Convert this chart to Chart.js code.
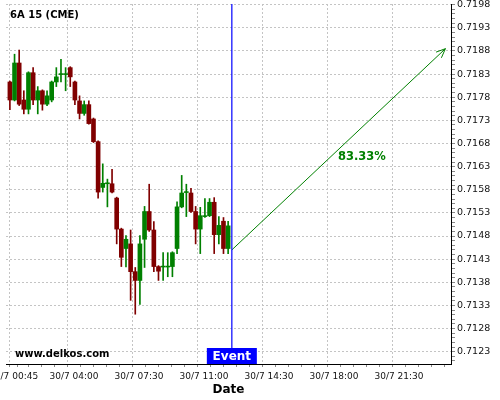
<!DOCTYPE html>
<html>
<head>
<meta charset="utf-8">
<script src="https://cdn.jsdelivr.net/npm/chart.js@4.4.1/dist/chart.umd.min.js"></script>
<style>
  html, body { margin: 0; padding: 0; background: #fff; }
  #wrap { width: 500px; height: 400px; }
</style>
</head>
<body>
<div id="wrap"><canvas id="myChart" width="500" height="400"></canvas></div>
<script>
// 15 minute candles, time in hours of 30/7
let startHour = 0.55;
let stepHour = 0.25;
let open  = [0.71813, 0.71774, 0.71854, 0.71774, 0.71754, 0.71833, 0.71774, 0.71794, 0.71765, 0.71774, 0.71813, 0.71829,
             0.71829, 0.71844, 0.71813, 0.71772, 0.71745, 0.71764, 0.71733, 0.71684, 0.71585, 0.71593, 0.71593, 0.71562,
             0.71495, 0.71453, 0.71463, 0.71403, 0.71384, 0.71473, 0.71533, 0.71493, 0.71414, 0.71413, 0.71413, 0.71414,
             0.71453, 0.71543, 0.71574, 0.71573, 0.71533, 0.71495, 0.71522, 0.71524, 0.71553, 0.71483, 0.71512, 0.71453];
let high  = [0.71815, 0.71873, 0.71882, 0.71794, 0.71835, 0.71844, 0.71803, 0.71796, 0.71794, 0.71815, 0.71844, 0.71862,
             0.71844, 0.71846, 0.71815, 0.71783, 0.71772, 0.71772, 0.71735, 0.71686, 0.71636, 0.71603, 0.71624, 0.71564,
             0.71497, 0.71481, 0.71493, 0.71412, 0.71481, 0.71544, 0.71592, 0.71511, 0.71416, 0.71444, 0.71444, 0.71446,
             0.71554, 0.71611, 0.71592, 0.71583, 0.71544, 0.71542, 0.71561, 0.71561, 0.71563, 0.71522, 0.71520, 0.71512];
let low   = [0.71753, 0.71772, 0.71762, 0.71744, 0.71744, 0.71764, 0.71744, 0.71752, 0.71762, 0.71770, 0.71803, 0.71813,
             0.71794, 0.71803, 0.71764, 0.71733, 0.71741, 0.71722, 0.71682, 0.71562, 0.71575, 0.71543, 0.71573, 0.71463,
             0.71414, 0.71413, 0.71341, 0.71311, 0.71332, 0.71412, 0.71490, 0.71403, 0.71384, 0.71384, 0.71392, 0.71392,
             0.71442, 0.71541, 0.71522, 0.71531, 0.71463, 0.71442, 0.71520, 0.71522, 0.71442, 0.71463, 0.71442, 0.71442];
let close = [0.71774, 0.71854, 0.71765, 0.71754, 0.71833, 0.71774, 0.71794, 0.71765, 0.71783, 0.71813, 0.71824, 0.71831,
             0.71831, 0.71824, 0.71774, 0.71745, 0.71764, 0.71723, 0.71684, 0.71575, 0.71594, 0.71595, 0.71575, 0.71495,
             0.71434, 0.71473, 0.71403, 0.71384, 0.71463, 0.71533, 0.71493, 0.71414, 0.71404, 0.71415, 0.71415, 0.71444,
             0.71543, 0.71573, 0.71576, 0.71533, 0.71495, 0.71524, 0.71524, 0.71553, 0.71483, 0.71503, 0.71453, 0.71502];

let xTickHours = [0.75, 4, 7.5, 11, 14.5, 18, 21.5];
let xTickLabels = ['30/7 00:45', '30/7 04:00', '30/7 07:30', '30/7 11:00', '30/7 14:30', '30/7 18:00', '30/7 21:30'];
let yTicks = [0.7123, 0.7128, 0.7133, 0.7138, 0.7143, 0.7148, 0.7153, 0.7158, 0.7163, 0.7168, 0.7173, 0.7178, 0.7183, 0.7188, 0.7193, 0.7198];

let eventHour = 12.5;
let arrowHours = [12.5, 24.0];
let arrowPrices = [0.71450, 0.71885];
let percentLabel = '83.33%';
let percentPos = [19.5, 0.71651];

let green = '#008000';
let red = '#800000';
let font = "'DejaVu Sans', sans-serif";

let times = open.map((v, i) => startHour + i * stepHour);
let candleColors = open.map((o, i) => close[i] >= o ? green : red);

// x ticks: majors at the label hours, minor ticks every 0.7h between
function buildXTicks(scale) {
    let ticks = [];
    for (let t = xTickHours[1] - 0.7 * 5; t <= scale.max; t += 0.7) {
        if (t < scale.min) continue;
        if (xTickHours.some(h => Math.abs(h - t) < 0.3)) continue;
        ticks.push({ value: t, major: false });
    }
    xTickHours.forEach(h => ticks.push({ value: h, major: true }));
    ticks.sort((a, b) => a.value - b.value);
    scale.ticks = ticks;
}

function buildYTicks(scale) {
    let ticks = [];
    for (let k = 0; k <= 80; k++) {
        let v = Math.round((0.7120 + k * 0.0001) * 10000) / 10000;
        if (v < scale.min || v > scale.max) continue;
        let major = yTicks.some(t => Math.abs(t - v) < 0.00001);
        ticks.push({ value: v, major: major });
    }
    scale.ticks = ticks;
}

function noPad(s) {
    s.paddingLeft = 0;
    s.paddingRight = 0;
    s.paddingTop = 0;
    s.paddingBottom = 0;
}

const overlay = {
    id: 'overlay',
    afterDatasetsDraw(chart) {
        const ctx = chart.ctx;
        const area = chart.chartArea;
        const x = chart.scales.x;
        const y = chart.scales.y;
        ctx.save();

        // arrow head
        const pts = chart.getDatasetMeta(3).data;
        const p0 = pts[0], p1 = pts[1];
        const ang = Math.atan2(p1.y - p0.y, p1.x - p0.x);
        ctx.strokeStyle = green;
        ctx.lineWidth = 1;
        ctx.beginPath();
        ctx.moveTo(p1.x - 10 * Math.cos(ang - 0.4), p1.y - 10 * Math.sin(ang - 0.4));
        ctx.lineTo(p1.x, p1.y);
        ctx.lineTo(p1.x - 10 * Math.cos(ang + 0.4), p1.y - 10 * Math.sin(ang + 0.4));
        ctx.stroke();

        // percent label
        ctx.fillStyle = green;
        ctx.font = 'bold 11.5px ' + font;
        ctx.textAlign = 'center';
        ctx.textBaseline = 'middle';
        ctx.fillText(percentLabel, x.getPixelForValue(percentPos[0]), y.getPixelForValue(percentPos[1]));

        // event box
        const ex = x.getPixelForValue(eventHour);
        ctx.fillStyle = '#0000ff';
        ctx.fillRect(ex - 25, area.bottom - 16, 50, 16);
        ctx.fillStyle = '#ffffff';
        ctx.font = 'bold 12px ' + font;
        ctx.fillText('Event', ex, area.bottom - 7.5);

        // title and watermark
        ctx.fillStyle = '#000';
        ctx.font = 'bold 10px ' + font;
        ctx.textAlign = 'left';
        ctx.fillText('6A 15 (CME)', 10, 15.5);
        ctx.fillText('www.delkos.com', 15, 354);
        ctx.restore();
    }
};

const chart = document.getElementById('myChart').getContext('2d');
const myChart = new Chart(chart, {
    type: 'bar',
    data: {
        datasets: [{
            label: 'wicks',
            data: times.map((t, i) => ({ x: t, y: [low[i], high[i]] })),
            backgroundColor: candleColors,
            barThickness: 1,
            grouped: false,
            order: 2
        }, {
            label: 'bodies',
            data: times.map((t, i) => ({ x: t, y: [open[i], close[i]] })),
            backgroundColor: candleColors,
            barThickness: 4,
            grouped: false,
            order: 1
        }, {
            type: 'line',
            label: 'event',
            data: [{ x: eventHour, y: 0.71203 }, { x: eventHour, y: 0.71982 }],
            borderColor: '#0000ff',
            borderWidth: 1.2,
            pointRadius: 0,
            order: 0
        }, {
            type: 'line',
            label: 'arrow',
            data: arrowHours.map((h, i) => ({ x: h, y: arrowPrices[i] })),
            borderColor: green,
            borderWidth: 1,
            pointRadius: 0,
            order: 0
        }]
    },
    options: {
        responsive: false,
        animation: false,
        layout: { padding: { left: 6, top: 4, right: 0, bottom: 0 } },
        plugins: {
            legend: { display: false },
            tooltip: { enabled: false }
        },
        scales: {
            x: {
                type: 'linear',
                min: 0.34,
                max: 24.3,
                offset: false,
                afterBuildTicks: buildXTicks,
                afterFit: s => { s.height = 36; noPad(s); },
                grid: {
                    color: c => c.tick && c.tick.major ? '#c4c4c4' : 'rgba(0,0,0,0)',
                    tickColor: '#888',
                    tickLength: 3,
                    drawOnChartArea: true
                },
                border: { display: true, color: '#000', width: 1, dash: [2, 2] },
                ticks: {
                    autoSkip: false,
                    maxRotation: 0,
                    padding: 4,
                    color: '#111',
                    font: { family: font, size: 9 },
                    callback: v => {
                        let k = xTickHours.findIndex(h => Math.abs(h - v) < 0.01);
                        return k >= 0 ? xTickLabels[k] : '';
                    }
                },
                title: {
                    display: true,
                    text: 'Date',
                    color: '#000',
                    font: { family: font, size: 12, weight: 'bold' },
                    padding: { top: 0, bottom: 3 }
                }
            },
            y: {
                position: 'right',
                min: 0.712034,
                max: 0.719815,
                afterBuildTicks: buildYTicks,
                afterFit: s => { s.width = 49; noPad(s); },
                grid: {
                    color: c => c.tick && c.tick.major ? '#c4c4c4' : 'rgba(0,0,0,0)',
                    tickColor: '#888',
                    tickLength: 4
                },
                border: { display: true, color: '#000', width: 1, dash: [2, 2] },
                ticks: {
                    autoSkip: false,
                    padding: 2,
                    color: '#111',
                    font: { family: font, size: 9.5 },
                    callback: v => yTicks.some(t => Math.abs(t - v) < 0.00001) ? v.toFixed(4) : ''
                }
            }
        }
    },
    plugins: [overlay]
});
</script>
</body>
</html>
